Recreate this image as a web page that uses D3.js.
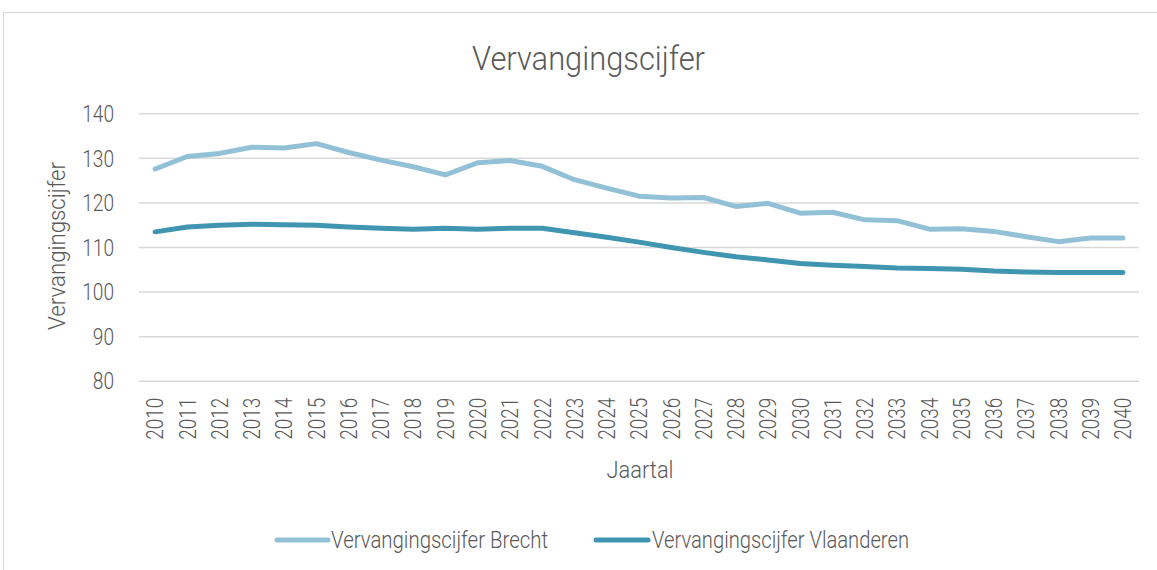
<!DOCTYPE html>
<html>
<head>
<meta charset="utf-8">
<script src="https://cdn.jsdelivr.net/npm/d3@7"></script>
<style>
  html, body { margin: 0; padding: 0; background: #fff; }
  svg text { font-family: Roboto, "Liberation Sans", sans-serif; font-weight: 300; fill: #595959; }
</style>
</head>
<body>
<svg id="chart" width="1157" height="570"></svg>
<script>
const years = d3.range(2010, 2041).map(String);
const brecht = [127.5, 130.3, 131.0, 132.4, 132.2, 133.2, 131.2, 129.5, 128.0, 126.2,
                128.9, 129.4, 128.1, 125.1, 123.2, 121.4, 121.0, 121.1, 119.1, 119.8,
                117.6, 117.8, 116.1, 115.9, 114.0, 114.1, 113.5, 112.3, 111.2, 112.0, 112.0];
const vlaanderen = [113.4, 114.5, 114.9, 115.1, 115.0, 114.9, 114.5, 114.2, 114.0, 114.2,
                    114.0, 114.2, 114.2, 113.2, 112.2, 111.1, 109.9, 108.8, 107.8, 107.1,
                    106.3, 105.9, 105.6, 105.3, 105.2, 105.0, 104.6, 104.4, 104.3, 104.3, 104.3];
const yTicks = [80, 90, 100, 110, 120, 130, 140];
const seriesNames = ["Vervangingscijfer Brecht", "Vervangingscijfer Vlaanderen"];
const seriesColors = ["#92c1d7", "#4096b0"];
const titleText = "Vervangingscijfer";
const yTitle = "Vervangingscijfer";
const xTitle = "Jaartal";

(function () {
const svg = d3.select("#chart");
const pLeft = 139, pRight = 1139, pTop = 113.3, pBottom = 380.7;

// frame
svg.append("rect").attr("x", 3.5).attr("y", 12.5).attr("width", 1200).attr("height", 600)
  .attr("fill", "none").attr("stroke", "#d9d9d9").attr("stroke-width", 1);

const x = d3.scaleBand().domain(years).range([pLeft, pRight]).padding(0);
const xc = d => x(d) + x.bandwidth() / 2;
const y = d3.scaleLinear().domain([80, 140]).range([pBottom, pTop]);

// grid + y axis
const yAxis = d3.axisLeft(y).tickValues(yTicks).tickSize(-(pRight - pLeft)).tickPadding(25).tickFormat(d3.format("d"));
const gy = svg.append("g").attr("transform", `translate(${pLeft},0)`).call(yAxis);
gy.select(".domain").remove();
gy.selectAll(".tick line").attr("stroke", "#d9d9d9").attr("stroke-width", 1.5);
gy.selectAll(".tick text").attr("font-size", 23).attr("fill", "#595959")
  .attr("font-family", "Roboto, sans-serif").attr("font-weight", 300)
  .attr("dy", "0.36em")
  .attr("textLength", function(d){ return String(d).length * 10.6; })
  .attr("lengthAdjust", "spacingAndGlyphs");

// x axis
const xAxis = d3.axisBottom(x).tickSize(0).tickPadding(0);
const gx = svg.append("g").attr("transform", `translate(0,${pBottom})`).call(xAxis);
gx.select(".domain").remove();
gx.selectAll(".tick text")
  .attr("font-size", 23).attr("fill", "#595959")
  .attr("font-family", "Roboto, sans-serif").attr("font-weight", 300)
  .attr("text-anchor", "end")
  .attr("transform", "rotate(-90)")
  .attr("x", -17).attr("y", 0).attr("dy", "0.36em")
  .attr("textLength", 42).attr("lengthAdjust", "spacingAndGlyphs");

// lines
const line = d3.line().x((d, i) => xc(years[i])).y(d => y(d));
[brecht, vlaanderen].forEach((s, k) => {
  svg.append("path").datum(s).attr("d", line)
    .attr("fill", "none").attr("stroke", seriesColors[k]).attr("stroke-width", 5)
    .attr("stroke-linecap", "round").attr("stroke-linejoin", "round");
});

// title
svg.append("text").attr("x", 588.5).attr("y", 70).attr("text-anchor", "middle")
  .attr("font-size", 34).text(titleText)
  .attr("textLength", 233).attr("lengthAdjust", "spacingAndGlyphs");

// y title
svg.append("text").attr("transform", "translate(65,246) rotate(-90)").attr("text-anchor", "middle")
  .attr("font-size", 24).text(yTitle)
  .attr("textLength", 168).attr("lengthAdjust", "spacingAndGlyphs");

// x title
svg.append("text").attr("x", 640).attr("y", 478).attr("text-anchor", "middle")
  .attr("font-size", 24).text(xTitle)
  .attr("textLength", 67).attr("lengthAdjust", "spacingAndGlyphs");

// legend
const legendItems = [
  { lx1: 277, lx2: 328, tx: 331, tw: 217 },
  { lx1: 596, lx2: 648, tx: 652, tw: 257 }
];
legendItems.forEach((it, k) => {
  svg.append("line").attr("x1", it.lx1).attr("x2", it.lx2).attr("y1", 540).attr("y2", 540)
    .attr("stroke", seriesColors[k]).attr("stroke-width", 5).attr("stroke-linecap", "round");
  svg.append("text").attr("x", it.tx).attr("y", 548).attr("font-size", 23).text(seriesNames[k])
    .attr("textLength", it.tw).attr("lengthAdjust", "spacingAndGlyphs");
});
})();
</script>
</body>
</html>
